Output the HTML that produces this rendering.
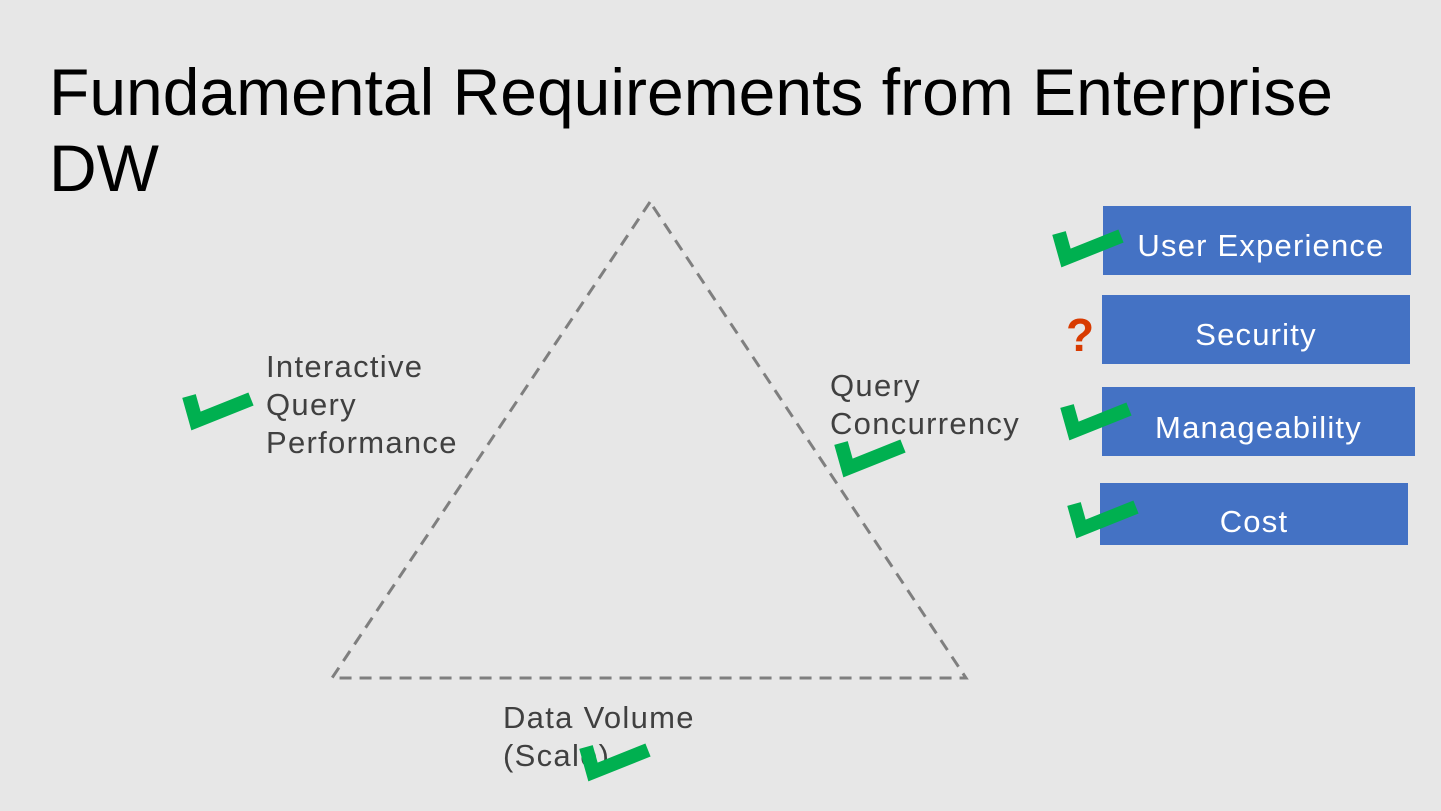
<!DOCTYPE html>
<html><head><style>
body{margin:0;width:1441px;height:811px;background:#e7e7e7;overflow:hidden;position:relative;font-family:"Liberation Sans",sans-serif}
.t{position:absolute;left:49px;top:54px;font-size:66px;line-height:76px;color:#000}
.l{position:absolute;font-size:31px;line-height:38px;color:#404040;letter-spacing:1.3px}
.b{position:absolute;background:#4472c4;color:#fff;font-size:31px;letter-spacing:1.2px;display:flex;align-items:center;justify-content:center;box-sizing:border-box}
</style></head><body>
<div class="t">Fundamental Requirements from Enterprise<br>DW</div>
<svg width="1441" height="811" style="position:absolute;left:0;top:0">
<polygon points="650,202 332,678 966,678" fill="none" stroke="#7f7f7f" stroke-width="3" stroke-dasharray="12 8"/>
</svg>
<div class="l" style="left:266px;top:348px">Interactive<br>Query<br>Performance</div>
<div class="l" style="left:830px;top:367px">Query<br>Concurrency</div>
<div class="l" style="left:503px;top:699px">Data Volume<br>(Scale)</div>
<div class="b" style="left:1103px;top:206px;width:308px;height:69px;padding-top:10px;padding-left:8px">User Experience</div>
<div class="b" style="left:1102px;top:295px;width:308px;height:69px;padding-top:10px">Security</div>
<div class="b" style="left:1102px;top:387px;width:313px;height:69px;padding-top:12px">Manageability</div>
<div class="b" style="left:1100px;top:483px;width:308px;height:62px;padding-top:16px">Cost</div>
<div style="position:absolute;left:1066px;top:310px;font-size:46px;font-weight:bold;color:#d83b01;line-height:50px">?</div>
<svg width="1441" height="811" style="position:absolute;left:0;top:0">
<defs><polyline id="c" points="6,6 13,31 68,9" fill="none" stroke="#00b050" stroke-width="14" stroke-linejoin="miter"/></defs>
<use href="#c" x="183" y="390"/>
<use href="#c" x="1053" y="227"/>
<use href="#c" x="1061" y="400"/>
<use href="#c" x="1068" y="498"/>
<use href="#c" x="835" y="437"/>
<use href="#c" x="580" y="741"/>
</svg>
</body></html>
